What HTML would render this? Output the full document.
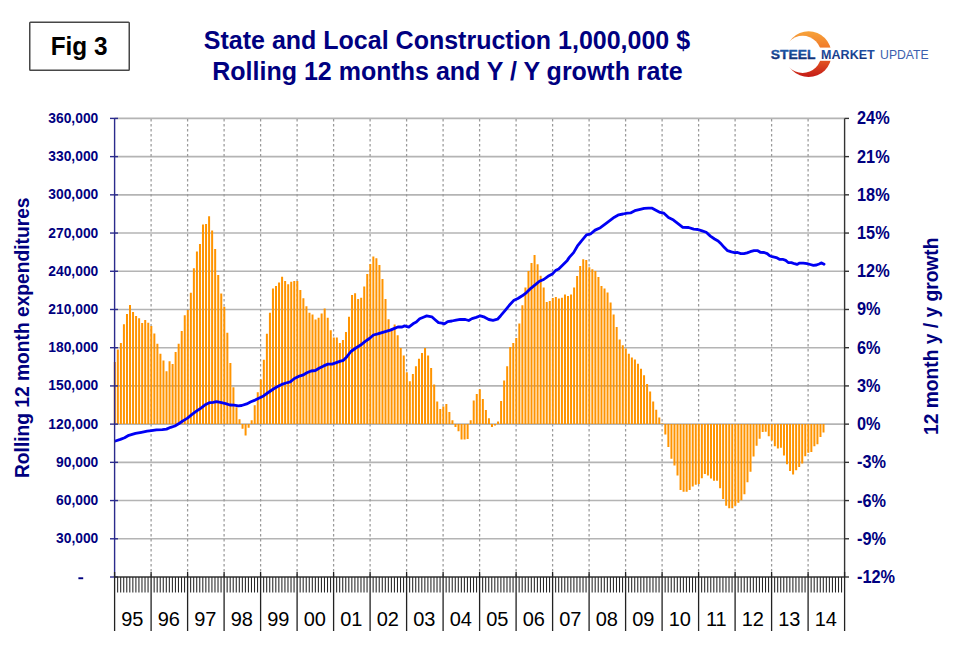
<!DOCTYPE html><html><head><meta charset="utf-8"><style>html,body{margin:0;padding:0;background:#fff;width:954px;height:652px;overflow:hidden}svg{display:block}text{font-family:"Liberation Sans",sans-serif}</style></head><body>
<svg width="954" height="652" viewBox="0 0 954 652">
<rect width="954" height="652" fill="#fff"/>
<rect x="29.75" y="22.25" width="99.5" height="48" rx="0.8" fill="#fff" stroke="#474747" stroke-width="1.5"/>
<text x="79.1" y="55.3" text-anchor="middle" font-size="25" font-weight="bold" fill="#000" textLength="56.8" lengthAdjust="spacingAndGlyphs">Fig 3</text>
<text x="447" y="48.5" text-anchor="middle" font-size="25" font-weight="bold" fill="#000080">State and Local Construction 1,000,000 $</text>
<text x="447.5" y="80.3" text-anchor="middle" font-size="25" font-weight="bold" fill="#000080">Rolling 12 months and Y / Y growth rate</text>
<defs>
<linearGradient id="cres" x1="0" y1="0" x2="0" y2="1"><stop offset="0" stop-color="#f7a33a"/><stop offset="0.5" stop-color="#ee6a25"/><stop offset="1" stop-color="#c41a17"/></linearGradient>
<linearGradient id="stl" x1="0" y1="0" x2="0" y2="1"><stop offset="0" stop-color="#2264b8"/><stop offset="1" stop-color="#0a2466"/></linearGradient>
<linearGradient id="mkt" x1="0" y1="0" x2="0" y2="1"><stop offset="0" stop-color="#2358ad"/><stop offset="1" stop-color="#0d2870"/></linearGradient>
<mask id="cm"><rect x="770" y="25" width="80" height="60" fill="#fff"/><circle cx="802.6" cy="54.4" r="18.6" fill="#000"/><rect x="815" y="47.6" width="30" height="13.2" fill="#000"/></mask>
</defs>
<circle cx="808.6" cy="54.2" r="22.9" fill="url(#cres)" mask="url(#cm)"/>
<text x="770.8" y="59.2" font-size="13.2" font-weight="bold" fill="url(#stl)" stroke="url(#stl)" stroke-width="0.35" textLength="44.6" lengthAdjust="spacingAndGlyphs">STEEL</text>
<text x="821.1" y="59" font-size="12.6" font-weight="bold" fill="url(#mkt)" textLength="53.6" lengthAdjust="spacingAndGlyphs">MARKET</text>
<text x="880.1" y="59" font-size="12.4" fill="#3c5fae" textLength="48.6" lengthAdjust="spacingAndGlyphs">UPDATE</text>
<line x1="114.6" y1="118.40" x2="844.6" y2="118.40" stroke="#b4b4b4" stroke-width="1.6"/>
<line x1="114.6" y1="156.62" x2="844.6" y2="156.62" stroke="#b4b4b4" stroke-width="1.6"/>
<line x1="114.6" y1="194.83" x2="844.6" y2="194.83" stroke="#b4b4b4" stroke-width="1.6"/>
<line x1="114.6" y1="233.05" x2="844.6" y2="233.05" stroke="#b4b4b4" stroke-width="1.6"/>
<line x1="114.6" y1="271.27" x2="844.6" y2="271.27" stroke="#b4b4b4" stroke-width="1.6"/>
<line x1="114.6" y1="309.48" x2="844.6" y2="309.48" stroke="#b4b4b4" stroke-width="1.6"/>
<line x1="114.6" y1="347.70" x2="844.6" y2="347.70" stroke="#b4b4b4" stroke-width="1.6"/>
<line x1="114.6" y1="385.92" x2="844.6" y2="385.92" stroke="#b4b4b4" stroke-width="1.6"/>
<line x1="114.6" y1="424.13" x2="844.6" y2="424.13" stroke="#b4b4b4" stroke-width="1.6"/>
<line x1="114.6" y1="462.35" x2="844.6" y2="462.35" stroke="#b4b4b4" stroke-width="1.6"/>
<line x1="114.6" y1="500.57" x2="844.6" y2="500.57" stroke="#b4b4b4" stroke-width="1.6"/>
<line x1="114.6" y1="538.78" x2="844.6" y2="538.78" stroke="#b4b4b4" stroke-width="1.6"/>
<line x1="151.10" y1="118.9" x2="151.10" y2="577.0" stroke="#9a9a9a" stroke-width="1.25" stroke-dasharray="2.7 2.3"/>
<line x1="187.60" y1="118.9" x2="187.60" y2="577.0" stroke="#9a9a9a" stroke-width="1.25" stroke-dasharray="2.7 2.3"/>
<line x1="224.10" y1="118.9" x2="224.10" y2="577.0" stroke="#9a9a9a" stroke-width="1.25" stroke-dasharray="2.7 2.3"/>
<line x1="260.60" y1="118.9" x2="260.60" y2="577.0" stroke="#9a9a9a" stroke-width="1.25" stroke-dasharray="2.7 2.3"/>
<line x1="297.10" y1="118.9" x2="297.10" y2="577.0" stroke="#9a9a9a" stroke-width="1.25" stroke-dasharray="2.7 2.3"/>
<line x1="333.60" y1="118.9" x2="333.60" y2="577.0" stroke="#9a9a9a" stroke-width="1.25" stroke-dasharray="2.7 2.3"/>
<line x1="370.10" y1="118.9" x2="370.10" y2="577.0" stroke="#9a9a9a" stroke-width="1.25" stroke-dasharray="2.7 2.3"/>
<line x1="406.60" y1="118.9" x2="406.60" y2="577.0" stroke="#9a9a9a" stroke-width="1.25" stroke-dasharray="2.7 2.3"/>
<line x1="443.10" y1="118.9" x2="443.10" y2="577.0" stroke="#9a9a9a" stroke-width="1.25" stroke-dasharray="2.7 2.3"/>
<line x1="479.60" y1="118.9" x2="479.60" y2="577.0" stroke="#9a9a9a" stroke-width="1.25" stroke-dasharray="2.7 2.3"/>
<line x1="516.10" y1="118.9" x2="516.10" y2="577.0" stroke="#9a9a9a" stroke-width="1.25" stroke-dasharray="2.7 2.3"/>
<line x1="552.60" y1="118.9" x2="552.60" y2="577.0" stroke="#9a9a9a" stroke-width="1.25" stroke-dasharray="2.7 2.3"/>
<line x1="589.10" y1="118.9" x2="589.10" y2="577.0" stroke="#9a9a9a" stroke-width="1.25" stroke-dasharray="2.7 2.3"/>
<line x1="625.60" y1="118.9" x2="625.60" y2="577.0" stroke="#9a9a9a" stroke-width="1.25" stroke-dasharray="2.7 2.3"/>
<line x1="662.10" y1="118.9" x2="662.10" y2="577.0" stroke="#9a9a9a" stroke-width="1.25" stroke-dasharray="2.7 2.3"/>
<line x1="698.60" y1="118.9" x2="698.60" y2="577.0" stroke="#9a9a9a" stroke-width="1.25" stroke-dasharray="2.7 2.3"/>
<line x1="735.10" y1="118.9" x2="735.10" y2="577.0" stroke="#9a9a9a" stroke-width="1.25" stroke-dasharray="2.7 2.3"/>
<line x1="771.60" y1="118.9" x2="771.60" y2="577.0" stroke="#9a9a9a" stroke-width="1.25" stroke-dasharray="2.7 2.3"/>
<line x1="808.10" y1="118.9" x2="808.10" y2="577.0" stroke="#9a9a9a" stroke-width="1.25" stroke-dasharray="2.7 2.3"/>
<path d="M113.80 361.9h2V424.1h-2zM116.84 349.6h2V424.1h-2zM119.88 342.9h2V424.1h-2zM122.92 324.2h2V424.1h-2zM125.97 314.0h2V424.1h-2zM129.01 305.1h2V424.1h-2zM132.05 311.9h2V424.1h-2zM135.09 316.1h2V424.1h-2zM138.13 318.3h2V424.1h-2zM141.17 323.0h2V424.1h-2zM144.22 320.0h2V424.1h-2zM147.26 322.7h2V424.1h-2zM150.30 325.9h2V424.1h-2zM153.34 333.5h2V424.1h-2zM156.38 343.8h2V424.1h-2zM159.42 353.8h2V424.1h-2zM162.47 360.5h2V424.1h-2zM165.51 371.3h2V424.1h-2zM168.55 361.3h2V424.1h-2zM171.59 364.0h2V424.1h-2zM174.63 351.9h2V424.1h-2zM177.67 343.8h2V424.1h-2zM180.72 331.0h2V424.1h-2zM183.76 315.2h2V424.1h-2zM186.80 310.0h2V424.1h-2zM189.84 292.7h2V424.1h-2zM192.88 268.2h2V424.1h-2zM195.92 251.5h2V424.1h-2zM198.97 244.0h2V424.1h-2zM202.01 224.6h2V424.1h-2zM205.05 224.0h2V424.1h-2zM208.09 216.3h2V424.1h-2zM211.13 230.5h2V424.1h-2zM214.17 248.9h2V424.1h-2zM217.22 275.0h2V424.1h-2zM220.26 293.4h2V424.1h-2zM223.30 306.8h2V424.1h-2zM226.34 332.8h2V424.1h-2zM229.38 363.0h2V424.1h-2zM232.42 387.3h2V424.1h-2zM235.47 407.3h2V424.1h-2zM238.51 419.2h2V424.1h-2zM241.55 424.1h2V428.8h-2zM244.59 424.1h2V435.6h-2zM247.63 424.1h2V427.8h-2zM250.67 420.2h2V424.1h-2zM253.72 405.2h2V424.1h-2zM256.76 392.2h2V424.1h-2zM259.80 379.6h2V424.1h-2zM262.84 359.8h2V424.1h-2zM265.88 333.7h2V424.1h-2zM268.93 312.7h2V424.1h-2zM271.97 288.4h2V424.1h-2zM275.01 286.0h2V424.1h-2zM278.05 282.6h2V424.1h-2zM281.09 276.8h2V424.1h-2zM284.13 281.0h2V424.1h-2zM287.18 284.2h2V424.1h-2zM290.22 281.8h2V424.1h-2zM293.26 281.0h2V424.1h-2zM296.30 280.9h2V424.1h-2zM299.34 290.1h2V424.1h-2zM302.38 298.3h2V424.1h-2zM305.43 306.2h2V424.1h-2zM308.47 312.8h2V424.1h-2zM311.51 314.4h2V424.1h-2zM314.55 319.4h2V424.1h-2zM317.59 317.8h2V424.1h-2zM320.63 313.5h2V424.1h-2zM323.68 308.5h2V424.1h-2zM326.72 317.8h2V424.1h-2zM329.76 330.2h2V424.1h-2zM332.80 337.6h2V424.1h-2zM335.84 337.6h2V424.1h-2zM338.88 342.9h2V424.1h-2zM341.93 340.0h2V424.1h-2zM344.97 332.1h2V424.1h-2zM348.01 316.8h2V424.1h-2zM351.05 295.1h2V424.1h-2zM354.09 293.2h2V424.1h-2zM357.13 299.0h2V424.1h-2zM360.18 297.7h2V424.1h-2zM363.22 286.6h2V424.1h-2zM366.26 274.1h2V424.1h-2zM369.30 264.1h2V424.1h-2zM372.34 256.4h2V424.1h-2zM375.38 258.2h2V424.1h-2zM378.43 265.0h2V424.1h-2zM381.47 279.0h2V424.1h-2zM384.51 299.0h2V424.1h-2zM387.55 319.2h2V424.1h-2zM390.59 329.0h2V424.1h-2zM393.63 324.4h2V424.1h-2zM396.68 335.3h2V424.1h-2zM399.72 348.0h2V424.1h-2zM402.76 355.4h2V424.1h-2zM405.80 372.2h2V424.1h-2zM408.84 381.2h2V424.1h-2zM411.88 373.9h2V424.1h-2zM414.93 366.2h2V424.1h-2zM417.97 358.8h2V424.1h-2zM421.01 352.9h2V424.1h-2zM424.05 348.0h2V424.1h-2zM427.09 355.5h2V424.1h-2zM430.13 368.0h2V424.1h-2zM433.18 384.5h2V424.1h-2zM436.22 401.4h2V424.1h-2zM439.26 408.9h2V424.1h-2zM442.30 406.5h2V424.1h-2zM445.34 404.0h2V424.1h-2zM448.38 412.0h2V424.1h-2zM451.43 420.2h2V424.1h-2zM454.47 424.1h2V427.0h-2zM457.51 424.1h2V431.3h-2zM460.55 424.1h2V439.6h-2zM463.59 424.1h2V439.6h-2zM466.63 424.1h2V439.0h-2zM469.68 420.2h2V424.1h-2zM472.72 400.6h2V424.1h-2zM475.76 394.1h2V424.1h-2zM478.80 389.2h2V424.1h-2zM481.84 399.1h2V424.1h-2zM484.88 410.1h2V424.1h-2zM487.93 418.2h2V424.1h-2zM490.97 424.1h2V427.0h-2zM494.01 424.1h2V425.4h-2zM497.05 421.6h2V424.1h-2zM500.09 400.9h2V424.1h-2zM503.13 380.6h2V424.1h-2zM506.18 366.3h2V424.1h-2zM509.22 346.9h2V424.1h-2zM512.26 343.0h2V424.1h-2zM515.30 337.9h2V424.1h-2zM518.34 323.6h2V424.1h-2zM521.38 305.2h2V424.1h-2zM524.43 287.5h2V424.1h-2zM527.47 271.1h2V424.1h-2zM530.51 263.1h2V424.1h-2zM533.55 255.0h2V424.1h-2zM536.59 264.2h2V424.1h-2zM539.63 275.7h2V424.1h-2zM542.68 287.5h2V424.1h-2zM545.72 302.1h2V424.1h-2zM548.76 301.0h2V424.1h-2zM551.80 297.9h2V424.1h-2zM554.84 296.9h2V424.1h-2zM557.88 298.4h2V424.1h-2zM560.93 297.7h2V424.1h-2zM563.97 294.5h2V424.1h-2zM567.01 296.0h2V424.1h-2zM570.05 294.5h2V424.1h-2zM573.09 287.6h2V424.1h-2zM576.13 276.1h2V424.1h-2zM579.18 265.9h2V424.1h-2zM582.22 259.2h2V424.1h-2zM585.26 260.0h2V424.1h-2zM588.30 267.3h2V424.1h-2zM591.34 269.2h2V424.1h-2zM594.38 271.0h2V424.1h-2zM597.43 276.9h2V424.1h-2zM600.47 286.1h2V424.1h-2zM603.51 288.4h2V424.1h-2zM606.55 292.5h2V424.1h-2zM609.59 302.6h2V424.1h-2zM612.63 314.4h2V424.1h-2zM615.68 327.1h2V424.1h-2zM618.72 339.5h2V424.1h-2zM621.76 345.2h2V424.1h-2zM624.80 348.5h2V424.1h-2zM627.84 353.7h2V424.1h-2zM630.88 357.4h2V424.1h-2zM633.93 359.6h2V424.1h-2zM636.97 363.8h2V424.1h-2zM640.01 368.8h2V424.1h-2zM643.05 375.2h2V424.1h-2zM646.09 384.1h2V424.1h-2zM649.13 391.4h2V424.1h-2zM652.18 401.4h2V424.1h-2zM655.22 409.8h2V424.1h-2zM658.26 417.4h2V424.1h-2zM661.30 423.6h2V424.1h-2zM664.34 424.1h2V434.6h-2zM667.38 424.1h2V447.0h-2zM670.43 424.1h2V458.7h-2zM673.47 424.1h2V465.6h-2zM676.51 424.1h2V475.6h-2zM679.55 424.1h2V490.0h-2zM682.59 424.1h2V491.7h-2zM685.63 424.1h2V491.7h-2zM688.68 424.1h2V490.0h-2zM691.72 424.1h2V486.5h-2zM694.76 424.1h2V484.8h-2zM697.80 424.1h2V483.9h-2zM700.84 424.1h2V478.3h-2zM703.88 424.1h2V474.0h-2zM706.93 424.1h2V475.6h-2zM709.97 424.1h2V478.6h-2zM713.01 424.1h2V480.8h-2zM716.05 424.1h2V480.8h-2zM719.09 424.1h2V488.3h-2zM722.13 424.1h2V499.1h-2zM725.18 424.1h2V505.8h-2zM728.22 424.1h2V508.3h-2zM731.26 424.1h2V508.3h-2zM734.30 424.1h2V505.8h-2zM737.34 424.1h2V502.8h-2zM740.38 424.1h2V500.2h-2zM743.43 424.1h2V494.3h-2zM746.47 424.1h2V482.2h-2zM749.51 424.1h2V471.8h-2zM752.55 424.1h2V456.4h-2zM755.59 424.1h2V445.7h-2zM758.63 424.1h2V438.8h-2zM761.68 424.1h2V431.9h-2zM764.72 424.1h2V431.8h-2zM767.76 424.1h2V436.3h-2zM770.80 424.1h2V440.6h-2zM773.84 424.1h2V446.2h-2zM776.88 424.1h2V448.5h-2zM779.93 424.1h2V447.7h-2zM782.97 424.1h2V455.4h-2zM786.01 424.1h2V464.3h-2zM789.05 424.1h2V471.1h-2zM792.09 424.1h2V474.4h-2zM795.13 424.1h2V470.3h-2zM798.18 424.1h2V466.9h-2zM801.22 424.1h2V463.4h-2zM804.26 424.1h2V456.2h-2zM807.30 424.1h2V452.8h-2zM810.34 424.1h2V452.0h-2zM813.38 424.1h2V446.2h-2zM816.43 424.1h2V444.3h-2zM819.47 424.1h2V437.0h-2zM822.51 424.1h2V432.4h-2z" fill="#ff9400"/>
<polyline points="115.4,441.0 120.4,439.4 124.6,437.8 128.8,435.3 135.5,433.4 141.4,432.3 147.2,431.2 151.4,430.6 156.4,429.8 162.3,429.6 166.5,429.1 170.7,427.3 174.9,426.0 179.1,423.5 183.3,420.6 187.5,418.1 191.7,414.7 196.4,411.2 200.6,408.3 204.8,405.1 209.8,402.6 213.2,402.4 216.5,401.6 221.5,402.6 225.7,403.6 229.9,405.0 234.1,405.1 238.3,405.8 241.7,405.5 246.7,403.9 250.9,401.8 255.1,400.1 259.3,398.0 263.5,395.9 267.5,393.0 273.4,389.0 277.6,386.5 281.8,384.4 286.0,383.0 290.2,381.9 294.4,378.5 298.5,376.4 302.7,375.2 306.9,372.8 311.1,371.0 315.3,370.5 319.5,368.0 323.7,365.9 327.9,364.1 332.1,364.1 336.3,362.6 340.5,361.1 343.4,360.3 346.7,356.9 350.9,351.5 355.1,348.5 361.0,344.8 365.2,341.4 369.4,338.5 373.5,335.0 377.7,333.9 381.9,332.6 386.1,331.4 390.3,330.1 394.5,328.4 397.9,327.0 402.1,327.0 404.6,325.9 408.8,327.2 413.0,323.8 416.3,322.1 419.7,318.8 423.4,317.2 426.7,315.9 431.8,316.8 435.1,319.7 438.5,322.6 441.8,323.1 444.4,323.9 447.7,321.6 451.9,321.0 456.1,320.1 460.3,319.3 465.3,319.5 468.7,320.5 472.0,318.6 476.2,317.4 480.4,315.8 484.6,317.2 488.8,319.5 493.0,320.3 497.5,319.2 500.7,315.7 505.0,310.6 509.3,305.3 513.6,300.6 517.9,298.5 522.2,295.8 526.5,292.6 530.8,288.3 535.1,284.9 539.4,281.3 543.7,279.5 548.0,276.3 552.3,274.1 555.5,270.6 558.7,269.0 563.0,264.7 567.3,260.4 569.3,257.4 573.6,252.6 577.3,246.2 581.1,241.3 586.5,234.9 590.8,233.8 595.1,230.1 600.4,227.7 605.8,223.6 610.1,220.4 614.4,217.2 618.7,214.8 623.0,214.0 627.3,213.1 630.5,212.9 634.8,210.7 640.2,209.4 644.2,208.4 648.4,208.1 652.2,208.2 655.9,210.2 660.1,212.4 663.9,213.2 668.5,217.6 673.5,220.1 677.7,223.3 682.8,227.3 688.6,227.5 693.7,229.2 697.9,229.5 702.1,230.9 706.2,232.3 710.4,236.1 714.6,239.0 718.1,241.0 721.3,244.1 724.4,247.6 727.6,250.7 731.4,251.9 734.5,252.6 737.6,252.5 740.8,253.6 743.9,253.6 747.1,252.9 750.2,251.7 754.0,250.7 757.8,250.7 760.3,252.3 764.1,252.5 767.2,253.6 769.7,255.8 772.2,256.7 776.3,257.6 779.4,259.3 782.6,259.3 785.7,260.4 788.2,262.5 791.4,262.6 794.5,263.7 797.0,264.4 799.6,263.1 803.3,263.1 807.1,263.6 810.3,264.5 813.4,265.3 816.5,265.0 819.1,264.0 821.6,262.9 824.1,264.2" fill="none" stroke="#0000f4" stroke-width="2.8" stroke-linejoin="round" stroke-linecap="round"/>
<line x1="114.6" y1="118.4" x2="114.6" y2="577.0" stroke="#2b2b8c" stroke-width="1.4"/>
<line x1="110" y1="118.40" x2="118.0" y2="118.40" stroke="#2b2b8c" stroke-width="1.4"/>
<line x1="110" y1="156.62" x2="118.0" y2="156.62" stroke="#2b2b8c" stroke-width="1.4"/>
<line x1="110" y1="194.83" x2="118.0" y2="194.83" stroke="#2b2b8c" stroke-width="1.4"/>
<line x1="110" y1="233.05" x2="118.0" y2="233.05" stroke="#2b2b8c" stroke-width="1.4"/>
<line x1="110" y1="271.27" x2="118.0" y2="271.27" stroke="#2b2b8c" stroke-width="1.4"/>
<line x1="110" y1="309.48" x2="118.0" y2="309.48" stroke="#2b2b8c" stroke-width="1.4"/>
<line x1="110" y1="347.70" x2="118.0" y2="347.70" stroke="#2b2b8c" stroke-width="1.4"/>
<line x1="110" y1="385.92" x2="118.0" y2="385.92" stroke="#2b2b8c" stroke-width="1.4"/>
<line x1="110" y1="424.13" x2="118.0" y2="424.13" stroke="#2b2b8c" stroke-width="1.4"/>
<line x1="110" y1="462.35" x2="118.0" y2="462.35" stroke="#2b2b8c" stroke-width="1.4"/>
<line x1="110" y1="500.57" x2="118.0" y2="500.57" stroke="#2b2b8c" stroke-width="1.4"/>
<line x1="110" y1="538.78" x2="118.0" y2="538.78" stroke="#2b2b8c" stroke-width="1.4"/>
<line x1="110" y1="577.00" x2="118.0" y2="577.00" stroke="#2b2b8c" stroke-width="1.4"/>
<line x1="844.6" y1="118.4" x2="844.6" y2="577.0" stroke="#333" stroke-width="1.4"/>
<line x1="844.6" y1="118.40" x2="849" y2="118.40" stroke="#333" stroke-width="1.4"/>
<line x1="844.6" y1="156.62" x2="849" y2="156.62" stroke="#333" stroke-width="1.4"/>
<line x1="844.6" y1="194.83" x2="849" y2="194.83" stroke="#333" stroke-width="1.4"/>
<line x1="844.6" y1="233.05" x2="849" y2="233.05" stroke="#333" stroke-width="1.4"/>
<line x1="844.6" y1="271.27" x2="849" y2="271.27" stroke="#333" stroke-width="1.4"/>
<line x1="844.6" y1="309.48" x2="849" y2="309.48" stroke="#333" stroke-width="1.4"/>
<line x1="844.6" y1="347.70" x2="849" y2="347.70" stroke="#333" stroke-width="1.4"/>
<line x1="844.6" y1="385.92" x2="849" y2="385.92" stroke="#333" stroke-width="1.4"/>
<line x1="844.6" y1="424.13" x2="849" y2="424.13" stroke="#333" stroke-width="1.4"/>
<line x1="844.6" y1="462.35" x2="849" y2="462.35" stroke="#333" stroke-width="1.4"/>
<line x1="844.6" y1="500.57" x2="849" y2="500.57" stroke="#333" stroke-width="1.4"/>
<line x1="844.6" y1="538.78" x2="849" y2="538.78" stroke="#333" stroke-width="1.4"/>
<line x1="844.6" y1="577.00" x2="849" y2="577.00" stroke="#333" stroke-width="1.4"/>
<line x1="114.6" y1="577.0" x2="844.6" y2="577.0" stroke="#333" stroke-width="1.4"/>
<path d="M117.64 577.0V592.5M120.68 577.0V592.5M123.72 577.0V592.5M126.77 577.0V592.5M129.81 577.0V592.5M132.85 577.0V592.5M135.89 577.0V592.5M138.93 577.0V592.5M141.97 577.0V592.5M145.02 577.0V592.5M148.06 577.0V592.5M154.14 577.0V592.5M157.18 577.0V592.5M160.22 577.0V592.5M163.27 577.0V592.5M166.31 577.0V592.5M169.35 577.0V592.5M172.39 577.0V592.5M175.43 577.0V592.5M178.47 577.0V592.5M181.52 577.0V592.5M184.56 577.0V592.5M190.64 577.0V592.5M193.68 577.0V592.5M196.72 577.0V592.5M199.77 577.0V592.5M202.81 577.0V592.5M205.85 577.0V592.5M208.89 577.0V592.5M211.93 577.0V592.5M214.97 577.0V592.5M218.02 577.0V592.5M221.06 577.0V592.5M227.14 577.0V592.5M230.18 577.0V592.5M233.22 577.0V592.5M236.27 577.0V592.5M239.31 577.0V592.5M242.35 577.0V592.5M245.39 577.0V592.5M248.43 577.0V592.5M251.47 577.0V592.5M254.52 577.0V592.5M257.56 577.0V592.5M263.64 577.0V592.5M266.68 577.0V592.5M269.73 577.0V592.5M272.77 577.0V592.5M275.81 577.0V592.5M278.85 577.0V592.5M281.89 577.0V592.5M284.93 577.0V592.5M287.98 577.0V592.5M291.02 577.0V592.5M294.06 577.0V592.5M300.14 577.0V592.5M303.18 577.0V592.5M306.23 577.0V592.5M309.27 577.0V592.5M312.31 577.0V592.5M315.35 577.0V592.5M318.39 577.0V592.5M321.43 577.0V592.5M324.48 577.0V592.5M327.52 577.0V592.5M330.56 577.0V592.5M336.64 577.0V592.5M339.68 577.0V592.5M342.73 577.0V592.5M345.77 577.0V592.5M348.81 577.0V592.5M351.85 577.0V592.5M354.89 577.0V592.5M357.93 577.0V592.5M360.98 577.0V592.5M364.02 577.0V592.5M367.06 577.0V592.5M373.14 577.0V592.5M376.18 577.0V592.5M379.23 577.0V592.5M382.27 577.0V592.5M385.31 577.0V592.5M388.35 577.0V592.5M391.39 577.0V592.5M394.43 577.0V592.5M397.48 577.0V592.5M400.52 577.0V592.5M403.56 577.0V592.5M409.64 577.0V592.5M412.68 577.0V592.5M415.73 577.0V592.5M418.77 577.0V592.5M421.81 577.0V592.5M424.85 577.0V592.5M427.89 577.0V592.5M430.93 577.0V592.5M433.98 577.0V592.5M437.02 577.0V592.5M440.06 577.0V592.5M446.14 577.0V592.5M449.18 577.0V592.5M452.23 577.0V592.5M455.27 577.0V592.5M458.31 577.0V592.5M461.35 577.0V592.5M464.39 577.0V592.5M467.43 577.0V592.5M470.48 577.0V592.5M473.52 577.0V592.5M476.56 577.0V592.5M482.64 577.0V592.5M485.68 577.0V592.5M488.73 577.0V592.5M491.77 577.0V592.5M494.81 577.0V592.5M497.85 577.0V592.5M500.89 577.0V592.5M503.93 577.0V592.5M506.98 577.0V592.5M510.02 577.0V592.5M513.06 577.0V592.5M519.14 577.0V592.5M522.18 577.0V592.5M525.23 577.0V592.5M528.27 577.0V592.5M531.31 577.0V592.5M534.35 577.0V592.5M537.39 577.0V592.5M540.43 577.0V592.5M543.48 577.0V592.5M546.52 577.0V592.5M549.56 577.0V592.5M555.64 577.0V592.5M558.68 577.0V592.5M561.73 577.0V592.5M564.77 577.0V592.5M567.81 577.0V592.5M570.85 577.0V592.5M573.89 577.0V592.5M576.93 577.0V592.5M579.98 577.0V592.5M583.02 577.0V592.5M586.06 577.0V592.5M592.14 577.0V592.5M595.18 577.0V592.5M598.23 577.0V592.5M601.27 577.0V592.5M604.31 577.0V592.5M607.35 577.0V592.5M610.39 577.0V592.5M613.43 577.0V592.5M616.48 577.0V592.5M619.52 577.0V592.5M622.56 577.0V592.5M628.64 577.0V592.5M631.68 577.0V592.5M634.73 577.0V592.5M637.77 577.0V592.5M640.81 577.0V592.5M643.85 577.0V592.5M646.89 577.0V592.5M649.93 577.0V592.5M652.98 577.0V592.5M656.02 577.0V592.5M659.06 577.0V592.5M665.14 577.0V592.5M668.18 577.0V592.5M671.23 577.0V592.5M674.27 577.0V592.5M677.31 577.0V592.5M680.35 577.0V592.5M683.39 577.0V592.5M686.43 577.0V592.5M689.48 577.0V592.5M692.52 577.0V592.5M695.56 577.0V592.5M701.64 577.0V592.5M704.68 577.0V592.5M707.73 577.0V592.5M710.77 577.0V592.5M713.81 577.0V592.5M716.85 577.0V592.5M719.89 577.0V592.5M722.93 577.0V592.5M725.98 577.0V592.5M729.02 577.0V592.5M732.06 577.0V592.5M738.14 577.0V592.5M741.18 577.0V592.5M744.23 577.0V592.5M747.27 577.0V592.5M750.31 577.0V592.5M753.35 577.0V592.5M756.39 577.0V592.5M759.43 577.0V592.5M762.48 577.0V592.5M765.52 577.0V592.5M768.56 577.0V592.5M774.64 577.0V592.5M777.68 577.0V592.5M780.73 577.0V592.5M783.77 577.0V592.5M786.81 577.0V592.5M789.85 577.0V592.5M792.89 577.0V592.5M795.93 577.0V592.5M798.98 577.0V592.5M802.02 577.0V592.5M805.06 577.0V592.5M811.14 577.0V592.5M814.18 577.0V592.5M817.23 577.0V592.5M820.27 577.0V592.5M823.31 577.0V592.5M826.35 577.0V592.5M829.39 577.0V592.5M832.43 577.0V592.5M835.48 577.0V592.5M838.52 577.0V592.5M841.56 577.0V592.5" stroke="#262626" stroke-width="1.05"/>
<path d="M114.60 572V631M151.10 572V631M187.60 572V631M224.10 572V631M260.60 572V631M297.10 572V631M333.60 572V631M370.10 572V631M406.60 572V631M443.10 572V631M479.60 572V631M516.10 572V631M552.60 572V631M589.10 572V631M625.60 572V631M662.10 572V631M698.60 572V631M735.10 572V631M771.60 572V631M808.10 572V631M844.60 572V631" stroke="#222" stroke-width="1.3"/>
<text x="98.3" y="122.8" font-size="14.4" font-weight="bold" fill="#000080" text-anchor="end" textLength="50.0" lengthAdjust="spacingAndGlyphs">360,000</text>
<text x="98.3" y="161.0" font-size="14.4" font-weight="bold" fill="#000080" text-anchor="end" textLength="50.0" lengthAdjust="spacingAndGlyphs">330,000</text>
<text x="98.3" y="199.2" font-size="14.4" font-weight="bold" fill="#000080" text-anchor="end" textLength="50.0" lengthAdjust="spacingAndGlyphs">300,000</text>
<text x="98.3" y="237.5" font-size="14.4" font-weight="bold" fill="#000080" text-anchor="end" textLength="50.0" lengthAdjust="spacingAndGlyphs">270,000</text>
<text x="98.3" y="275.7" font-size="14.4" font-weight="bold" fill="#000080" text-anchor="end" textLength="50.0" lengthAdjust="spacingAndGlyphs">240,000</text>
<text x="98.3" y="313.9" font-size="14.4" font-weight="bold" fill="#000080" text-anchor="end" textLength="50.0" lengthAdjust="spacingAndGlyphs">210,000</text>
<text x="98.3" y="352.1" font-size="14.4" font-weight="bold" fill="#000080" text-anchor="end" textLength="50.0" lengthAdjust="spacingAndGlyphs">180,000</text>
<text x="98.3" y="390.3" font-size="14.4" font-weight="bold" fill="#000080" text-anchor="end" textLength="50.0" lengthAdjust="spacingAndGlyphs">150,000</text>
<text x="98.3" y="428.5" font-size="14.4" font-weight="bold" fill="#000080" text-anchor="end" textLength="50.0" lengthAdjust="spacingAndGlyphs">120,000</text>
<text x="98.3" y="466.8" font-size="14.4" font-weight="bold" fill="#000080" text-anchor="end" textLength="42.3" lengthAdjust="spacingAndGlyphs">90,000</text>
<text x="98.3" y="505.0" font-size="14.4" font-weight="bold" fill="#000080" text-anchor="end" textLength="42.3" lengthAdjust="spacingAndGlyphs">60,000</text>
<text x="98.3" y="543.2" font-size="14.4" font-weight="bold" fill="#000080" text-anchor="end" textLength="42.3" lengthAdjust="spacingAndGlyphs">30,000</text>
<rect x="78.4" y="577.3" width="4.8" height="1.9" fill="#000080"/>
<text x="857" y="124.3" font-size="18" font-weight="bold" fill="#000080" textLength="32.62" lengthAdjust="spacingAndGlyphs">24%</text>
<text x="857" y="162.5" font-size="18" font-weight="bold" fill="#000080" textLength="32.62" lengthAdjust="spacingAndGlyphs">21%</text>
<text x="857" y="200.7" font-size="18" font-weight="bold" fill="#000080" textLength="32.62" lengthAdjust="spacingAndGlyphs">18%</text>
<text x="857" y="239.0" font-size="18" font-weight="bold" fill="#000080" textLength="32.62" lengthAdjust="spacingAndGlyphs">15%</text>
<text x="857" y="277.2" font-size="18" font-weight="bold" fill="#000080" textLength="32.62" lengthAdjust="spacingAndGlyphs">12%</text>
<text x="857" y="315.4" font-size="18" font-weight="bold" fill="#000080" textLength="23.55" lengthAdjust="spacingAndGlyphs">9%</text>
<text x="857" y="353.6" font-size="18" font-weight="bold" fill="#000080" textLength="23.55" lengthAdjust="spacingAndGlyphs">6%</text>
<text x="857" y="391.8" font-size="18" font-weight="bold" fill="#000080" textLength="23.55" lengthAdjust="spacingAndGlyphs">3%</text>
<text x="857" y="430.0" font-size="18" font-weight="bold" fill="#000080" textLength="23.55" lengthAdjust="spacingAndGlyphs">0%</text>
<text x="857" y="468.2" font-size="18" font-weight="bold" fill="#000080" textLength="28.98" lengthAdjust="spacingAndGlyphs">-3%</text>
<text x="857" y="506.5" font-size="18" font-weight="bold" fill="#000080" textLength="28.98" lengthAdjust="spacingAndGlyphs">-6%</text>
<text x="857" y="544.7" font-size="18" font-weight="bold" fill="#000080" textLength="28.98" lengthAdjust="spacingAndGlyphs">-9%</text>
<text x="857" y="582.9" font-size="18" font-weight="bold" fill="#000080" textLength="38.04" lengthAdjust="spacingAndGlyphs">-12%</text>
<text x="132.35" y="626" font-size="20" fill="#000" text-anchor="middle">95</text>
<text x="168.85" y="626" font-size="20" fill="#000" text-anchor="middle">96</text>
<text x="205.35" y="626" font-size="20" fill="#000" text-anchor="middle">97</text>
<text x="241.85" y="626" font-size="20" fill="#000" text-anchor="middle">98</text>
<text x="278.35" y="626" font-size="20" fill="#000" text-anchor="middle">99</text>
<text x="314.85" y="626" font-size="20" fill="#000" text-anchor="middle">00</text>
<text x="351.35" y="626" font-size="20" fill="#000" text-anchor="middle">01</text>
<text x="387.85" y="626" font-size="20" fill="#000" text-anchor="middle">02</text>
<text x="424.35" y="626" font-size="20" fill="#000" text-anchor="middle">03</text>
<text x="460.85" y="626" font-size="20" fill="#000" text-anchor="middle">04</text>
<text x="497.35" y="626" font-size="20" fill="#000" text-anchor="middle">05</text>
<text x="533.85" y="626" font-size="20" fill="#000" text-anchor="middle">06</text>
<text x="570.35" y="626" font-size="20" fill="#000" text-anchor="middle">07</text>
<text x="606.85" y="626" font-size="20" fill="#000" text-anchor="middle">08</text>
<text x="643.35" y="626" font-size="20" fill="#000" text-anchor="middle">09</text>
<text x="679.85" y="626" font-size="20" fill="#000" text-anchor="middle">10</text>
<text x="716.35" y="626" font-size="20" fill="#000" text-anchor="middle">11</text>
<text x="752.85" y="626" font-size="20" fill="#000" text-anchor="middle">12</text>
<text x="789.35" y="626" font-size="20" fill="#000" text-anchor="middle">13</text>
<text x="825.85" y="626" font-size="20" fill="#000" text-anchor="middle">14</text>
<text transform="translate(29.2,337.75) rotate(-90)" font-size="20" font-weight="bold" fill="#000080" text-anchor="middle" textLength="280.5" lengthAdjust="spacingAndGlyphs">Rolling 12 month expenditures</text>
<text transform="translate(938.4,336.25) rotate(-90)" font-size="20" font-weight="bold" fill="#000080" text-anchor="middle" textLength="197.3" lengthAdjust="spacingAndGlyphs">12 month y / y growth</text>
</svg></body></html>
